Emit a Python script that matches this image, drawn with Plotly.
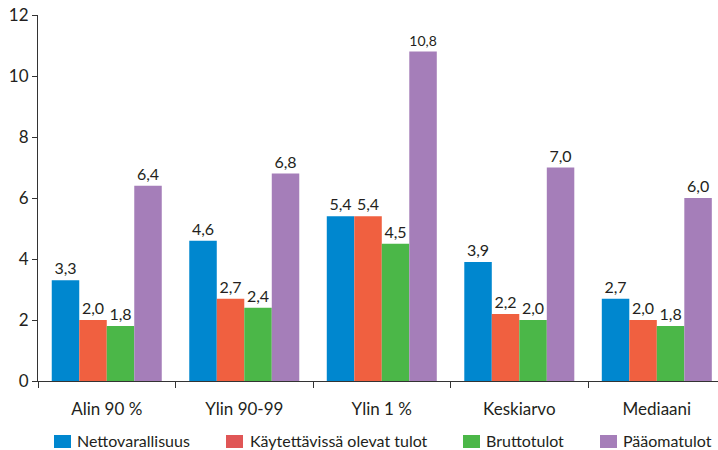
import plotly.graph_objects as go

categories = ["Alin 90 %", "Ylin 90-99", "Ylin 1 %", "Keskiarvo", "Mediaani"]
series_names = ["Nettovarallisuus", "Käytettävissä olevat tulot", "Bruttotulot", "Pääomatulot"]
nettovarallisuus = [3.3, 4.6, 5.4, 3.9, 2.7]
kaytettavissa = [2.0, 2.7, 5.4, 2.2, 2.0]
bruttotulot = [1.8, 2.4, 4.5, 2.0, 1.8]
paaomatulot = [6.4, 6.8, 10.8, 7.0, 6.0]
y_ticks = [0, 2, 4, 6, 8, 10, 12]

colors = ["#0087CF", "#F06040", "#4BB748", "#A57EB9"]
legend_colors = ["#0087CF", "#E05656", "#4BB748", "#A57EB9"]
FONT = "Lato"
TXT = "#231F20"

W, H = 718, 450
ML, MR, MT, MB = 38, 0, 15, 69
PW, PH = W - ML - MR, H - MT - MB

def px_x(x):
    return (x - ML) / PW

def px_y(y):
    return (H - MB - y) / PH

def fmt(v):
    return f"{v:.1f}".replace(".", ",")

fig = go.Figure()
for name, vals, col in zip(series_names,
                           [nettovarallisuus, kaytettavissa, bruttotulot, paaomatulot],
                           colors):
    fig.add_trace(go.Bar(
        x=categories, y=vals, name=name,
        marker=dict(color=col, line=dict(width=0)),
        text=[fmt(v) for v in vals], textposition="outside",
        textfont=dict(family=FONT, size=16, color=TXT),
        cliponaxis=False, showlegend=False,
    ))

# manual legend
legend_sq_left = [54, 226, 463, 600]
legend_txt_left = [76, 249, 485, 622]
for name, col, sx, tx in zip(series_names, legend_colors, legend_sq_left, legend_txt_left):
    fig.add_shape(type="rect", xref="paper", yref="paper",
                  x0=px_x(sx), x1=px_x(sx + 17), y0=px_y(448), y1=px_y(435),
                  fillcolor=col, line=dict(width=0), layer="above")
    fig.add_annotation(text=name, xref="paper", yref="paper",
                       x=px_x(tx), y=px_y(440), xanchor="left", yanchor="middle",
                       showarrow=False, borderpad=0,
                       font=dict(family=FONT, size=16, color=TXT))

fig.update_layout(
    width=W, height=H,
    margin=dict(l=ML, r=MR, t=MT, b=MB),
    paper_bgcolor="white", plot_bgcolor="white",
    barmode="group", bargap=0.2, bargroupgap=0,
    font=dict(family=FONT, size=16, color=TXT),
    showlegend=False,
)
fig.update_xaxes(
    range=[-0.5, 4.445], showline=True, linecolor="#333333", linewidth=1,
    ticks="outside", tickson="boundaries", ticklen=6, tickcolor="#333333",
    tickfont=dict(family=FONT, size=17, color=TXT), showgrid=False, automargin=False,
    ticklabelstandoff=13,
)
fig.update_yaxes(
    range=[0, 12], tickvals=y_ticks, showline=True, linecolor="#333333", linewidth=1,
    ticks="outside", ticklen=5, tickcolor="#333333", showgrid=False, zeroline=False,
    tickfont=dict(family=FONT, size=17, color=TXT), automargin=False,
)

fig.write_html("out.html")
